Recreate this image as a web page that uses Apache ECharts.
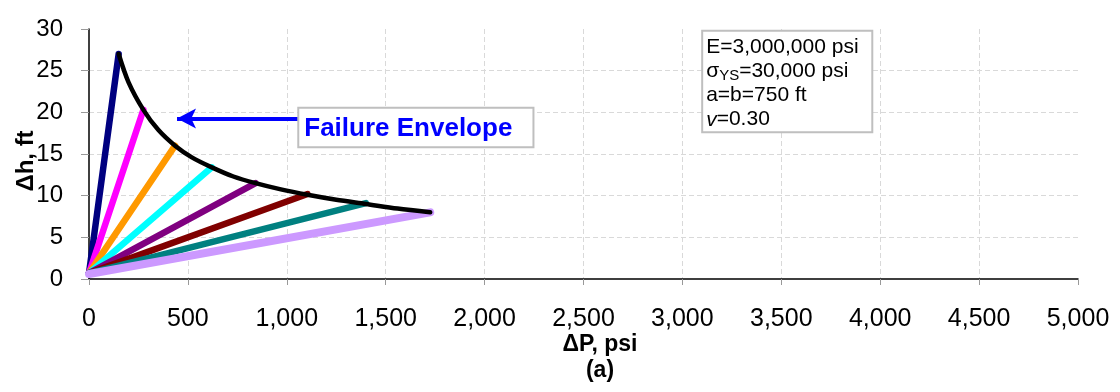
<!DOCTYPE html>
<html>
<head>
<meta charset="utf-8">
<script src="https://cdn.jsdelivr.net/npm/echarts@6/dist/echarts.min.js"></script>
<style>
  html, body { margin: 0; padding: 0; background: #fff; }
  #chart { width: 1120px; height: 392px; }
</style>
</head>
<body>
<div id="chart"></div>
<script>
// 各条加载路径: 起点 (0, rayStartY) -> 终点 (rayEndX, rayEndY)
const rayColors = ['#000080', '#FF00FF', '#FF9900', '#00FFFF', '#800080', '#800000', '#008080', '#CC99FF']
const rayStartY = [0.7, 0.7, 0.7, 0.7, 0.7, 0.7, 0.7, 0.6]
const rayEndX = [150, 275, 435, 621, 842, 1105, 1400, 1725]
const rayEndY = [27.0, 20.3, 16.0, 13.4, 11.5, 10.2, 9.1, 8.0]

// 破坏包络线 (从图上读点)
const envX = [150, 200, 275, 350, 435, 520, 621, 730, 842, 970, 1105, 1250, 1400, 1560, 1725]
const envY = [27.0, 23.6, 20.3, 17.9, 16.0, 14.6, 13.4, 12.3, 11.5, 10.75, 10.1, 9.5, 9.0, 8.45, 8.0]

const xTicks = [0, 500, 1000, 1500, 2000, 2500, 3000, 3500, 4000, 4500, 5000]
const yTicks = [0, 5, 10, 15, 20, 25, 30]

const FONT = 'Liberation Sans, Arial, sans-serif'
const gridLine = { show: true, showMaxLine: false, showMinLine: false, lineStyle: { color: '#d9d9d9', type: [5, 3], width: 1 } }

const chart = echarts.init(document.getElementById('chart'), null, { renderer: 'canvas' })

const rays = rayColors.map((c, i) => ({
  type: 'line',
  data: [[0, rayStartY[i]], [rayEndX[i], rayEndY[i]]],
  symbol: 'none',
  silent: true,
  lineStyle: { color: c, width: i === 7 ? 8 : 6.5, cap: 'round' },
  z: 2 + i
}))

chart.setOption({
  animation: false,
  backgroundColor: '#fff',
  grid: { left: 89, right: 42, top: 29, bottom: 113, outerBoundsMode: 'none', containLabel: false },
  xAxis: {
    type: 'value',
    min: xTicks[0], max: xTicks[xTicks.length - 1], interval: 500,
    axisLine: { show: true, onZero: false, lineStyle: { color: '#000', width: 1.5 } },
    axisTick: { show: true, length: 6, lineStyle: { color: '#999' } },
    axisLabel: { color: '#000', fontSize: 25, fontFamily: FONT, margin: 28, formatter: v => v.toLocaleString('en-US') },
    splitLine: gridLine
  },
  yAxis: {
    type: 'value',
    min: yTicks[0], max: yTicks[yTicks.length - 1], interval: 5,
    axisLine: { show: true, onZero: false, lineStyle: { color: '#000', width: 1.5 } },
    axisTick: { show: true, length: 8, lineStyle: { color: '#999' } },
    axisLabel: { color: '#000', fontSize: 24, fontFamily: FONT, margin: 26 },
    splitLine: gridLine
  },
  series: [
    ...rays,
    {
      type: 'line',
      data: envX.map((x, i) => [x, envY[i]]),
      smooth: 0.3,
      symbol: 'none',
      silent: true,
      lineStyle: { color: '#000', width: 4.5, cap: 'round' },
      z: 20
    },
    {
      // 箭头: 指向包络线
      type: 'line',
      data: [],
      silent: true,
      markLine: {
        silent: true,
        symbol: ['none', 'arrow'],
        symbolSize: [15, 19],
        label: { show: false },
        lineStyle: { color: '#0000FF', width: 4, type: 'solid' },
        data: [[{ coord: [1058, 19.25] }, { coord: [445, 19.25] }]]
      },
      z: 21
    }
  ]
})

// 注释框位置由数据坐标换算
const boxA = chart.convertToPixel({ gridIndex: 0 }, [1058, 20.55])
const boxB = chart.convertToPixel({ gridIndex: 0 }, [2247, 15.8])
const noteA = chart.convertToPixel({ gridIndex: 0 }, [3100, 29.8])
const noteB = chart.convertToPixel({ gridIndex: 0 }, [3960, 17.6])

chart.setOption({
  graphic: [
    {
      type: 'rect',
      shape: { x: boxA[0], y: boxA[1], width: boxB[0] - boxA[0], height: boxB[1] - boxA[1] },
      style: { fill: '#fff', stroke: '#bfbfbf', lineWidth: 2 },
      z: 30
    },
    {
      type: 'text',
      x: boxA[0] + 6, y: (boxA[1] + boxB[1]) / 2 + 1,
      style: { text: 'Failure Envelope', fill: '#0000FF', font: 'bold 26px ' + FONT, align: 'left', verticalAlign: 'middle' },
      z: 31
    },
    {
      type: 'rect',
      shape: { x: noteA[0], y: noteA[1], width: noteB[0] - noteA[0], height: noteB[1] - noteA[1] },
      style: { fill: '#fff', stroke: '#bfbfbf', lineWidth: 2 },
      z: 30
    },
    {
      type: 'text',
      x: noteA[0] + 4, y: noteA[1] + 5,
      style: {
        text: 'E=3,000,000 psi\nσ{sub|YS}=30,000 psi\na=b=750 ft\n{it|v}=0.30',
        fill: '#000',
        font: '21px ' + FONT,
        lineHeight: 24,
        rich: {
          sub: { fontSize: 15, fontFamily: FONT, verticalAlign: 'bottom', padding: [8, 0, 0, 0], fill: '#000' },
          it: { fontSize: 21, fontStyle: 'italic', fontFamily: FONT, fill: '#000' }
        }
      },
      z: 31
    },
    {
      type: 'text',
      x: 26, y: 161,
      rotation: Math.PI / 2,
      style: { text: 'Δh, ft', fill: '#000', font: 'bold 24px ' + FONT, align: 'center', verticalAlign: 'middle' }
    },
    {
      type: 'text',
      x: 600, y: 345,
      style: { text: 'ΔP, psi', fill: '#000', font: 'bold 23px ' + FONT, align: 'center', verticalAlign: 'middle' }
    },
    {
      type: 'text',
      x: 600, y: 371,
      style: { text: '(a)', fill: '#000', font: 'bold 23px ' + FONT, align: 'center', verticalAlign: 'middle' }
    }
  ]
})
</script>
</body>
</html>
